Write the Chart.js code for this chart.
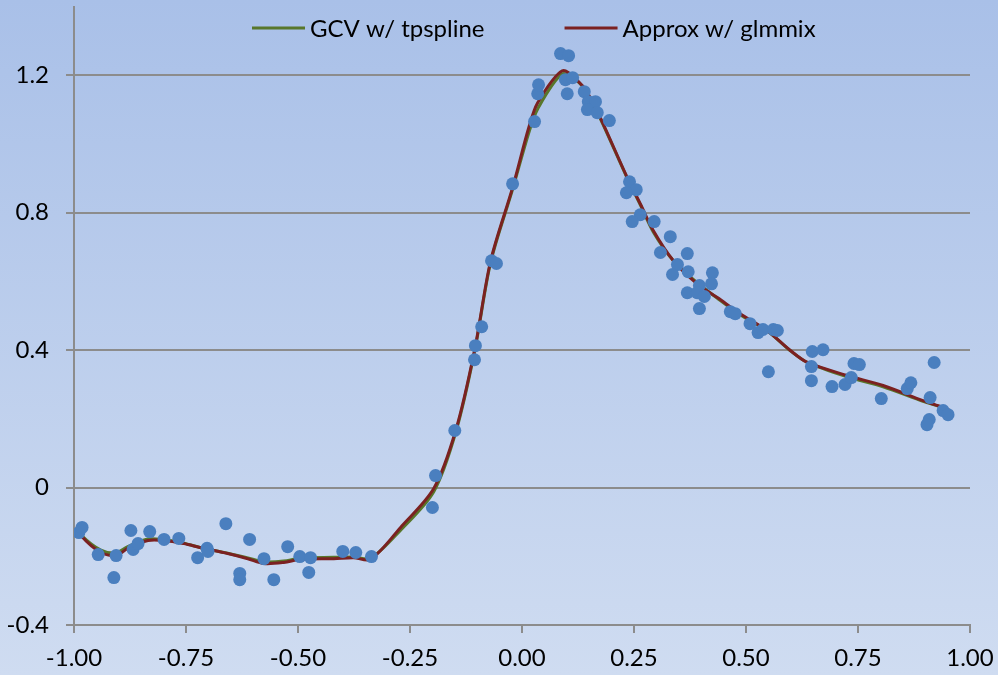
<!DOCTYPE html>
<html>
<head>
<meta charset="utf-8">
<script src="https://cdn.jsdelivr.net/npm/chart.js@4.4.1/dist/chart.umd.min.js"></script>
<style>
  html, body { margin: 0; padding: 0; }
  #wrap { width: 998px; height: 675px; position: relative; }
</style>
</head>
<body>
<div id="wrap"><canvas id="c"></canvas></div>
<script>
// Observed data points
const obsX = [-0.989, -0.982, -0.946, -0.906, -0.911, -0.873, -0.868, -0.857, -0.831, -0.799,
  -0.766, -0.724, -0.703, -0.701, -0.661, -0.630, -0.630, -0.608, -0.576, -0.554,
  -0.523, -0.496, -0.476, -0.472, -0.400, -0.371, -0.336, -0.200, -0.193,
  -0.150, -0.106, -0.104, -0.090, -0.068, -0.057, -0.021, 0.028, 0.035, 0.037,
  0.086, 0.104, 0.097, 0.113, 0.101, 0.139, 0.148, 0.164, 0.146, 0.168, 0.195,
  0.240, 0.255, 0.233, 0.264, 0.246, 0.295, 0.331, 0.309, 0.369, 0.347,
  0.336, 0.371, 0.425, 0.423, 0.396, 0.369, 0.391, 0.407, 0.396, 0.465,
  0.476, 0.509, 0.527, 0.538, 0.561, 0.570, 0.550, 0.648, 0.672, 0.646,
  0.646, 0.692, 0.721, 0.735, 0.741, 0.753, 0.802, 0.860, 0.868, 0.911,
  0.920, 0.940, 0.951, 0.909, 0.904];
const obsY = [-0.131, -0.116, -0.195, -0.198, -0.262, -0.125, -0.180, -0.163, -0.128, -0.151,
  -0.148, -0.204, -0.177, -0.186, -0.105, -0.250, -0.268, -0.151, -0.207, -0.268,
  -0.172, -0.201, -0.247, -0.204, -0.186, -0.189, -0.201, -0.058, 0.035,
  0.166, 0.372, 0.413, 0.468, 0.660, 0.652, 0.884, 1.065, 1.146, 1.172,
  1.263, 1.257, 1.187, 1.193, 1.146, 1.152, 1.123, 1.123, 1.100, 1.091, 1.068,
  0.890, 0.867, 0.858, 0.794, 0.774, 0.774, 0.730, 0.684, 0.681, 0.649,
  0.620, 0.628, 0.625, 0.593, 0.588, 0.567, 0.567, 0.556, 0.521, 0.512,
  0.506, 0.477, 0.451, 0.460, 0.460, 0.457, 0.337, 0.396, 0.401, 0.352,
  0.311, 0.294, 0.300, 0.320, 0.361, 0.358, 0.259, 0.288, 0.305, 0.262,
  0.364, 0.224, 0.212, 0.198, 0.183];

// Fitted curves (shared x grid)
const fitX = [-0.993, -0.984, -0.940, -0.906, -0.880, -0.835, -0.799, -0.755, -0.717, -0.657,
  -0.612, -0.576, -0.532, -0.494, -0.420, -0.376, -0.338, -0.271, -0.197, -0.148,
  -0.106, -0.070, -0.021, 0.015, 0.035, 0.090, 0.124, 0.146, 0.175, 0.235,
  0.264, 0.293, 0.338, 0.391, 0.436, 0.487, 0.547, 0.599, 0.637, 0.726,
  0.806, 0.895, 0.940, 0.955];
const gcvY = [-0.113, -0.138, -0.182, -0.190, -0.172, -0.150, -0.152, -0.162, -0.175, -0.191,
  -0.205, -0.216, -0.214, -0.205, -0.203, -0.202, -0.206, -0.124, -0.012, 0.160,
  0.394, 0.655, 0.868, 1.032, 1.102, 1.204, 1.182, 1.146, 1.073, 0.900,
  0.823, 0.744, 0.660, 0.596, 0.551, 0.503, 0.456, 0.398, 0.364, 0.322,
  0.293, 0.251, 0.232, 0.223];
const glmmixY = [-0.111, -0.140, -0.189, -0.198, -0.177, -0.154, -0.154, -0.163, -0.175, -0.192,
  -0.207, -0.221, -0.218, -0.209, -0.207, -0.204, -0.209, -0.116, -0.003, 0.166,
  0.399, 0.660, 0.873, 1.047, 1.120, 1.213, 1.184, 1.149, 1.076, 0.902,
  0.826, 0.748, 0.660, 0.593, 0.553, 0.506, 0.457, 0.399, 0.364, 0.326,
  0.297, 0.253, 0.233, 0.224];

const seriesNames = ['GCV w/ tpspline', 'Approx w/ glmmix'];
const xTicks = [-1, -0.75, -0.5, -0.25, 0, 0.25, 0.5, 0.75, 1];
const yTicks = [-0.4, 0, 0.4, 0.8, 1.2];

const toPts = (xs, ys) => xs.map((x, i) => ({ x, y: ys[i] }));
const GRID = '#8c8c8c';
const FONT = 'Lato, "Open Sans", sans-serif';

Chart.defaults.font.family = FONT;
Chart.defaults.font.size = 24;
Chart.defaults.color = '#000000';

// Soft vertical gradient behind the whole chart
const backdrop = {
  id: 'backdrop',
  beforeDraw(chart) {
    const { ctx, width, height } = chart;
    const g = ctx.createLinearGradient(0, 0, 0, height);
    g.addColorStop(0, '#a9c0e8');
    g.addColorStop(1, '#cfdcf1');
    ctx.save();
    ctx.fillStyle = g;
    ctx.fillRect(0, 0, width, height);
    ctx.restore();
  }
};

// Line-sample legend placed inside the plot near the top
const lineLegend = {
  id: 'lineLegend',
  afterDraw(chart) {
    const { ctx } = chart;
    const items = chart.data.datasets.filter(d => d.showInLegend);
    ctx.save();
    ctx.font = '24px ' + FONT;
    ctx.textBaseline = 'middle';
    ctx.fillStyle = '#000';
    const y = 28;
    let x = 252;
    items.forEach(d => {
      ctx.strokeStyle = d.borderColor;
      ctx.lineWidth = 3;
      ctx.beginPath();
      ctx.moveTo(x, y);
      ctx.lineTo(x + 53, y);
      ctx.stroke();
      ctx.fillText(d.label, x + 58, y + 1);
      x += 58 + ctx.measureText(d.label).width + 80;
    });
    ctx.restore();
  }
};

new Chart(document.getElementById('c'), {
  type: 'scatter',
  data: {
    datasets: [
      {
        label: 'Data',
        data: toPts(obsX, obsY),
        backgroundColor: '#4a7fbf',
        borderColor: '#4a7fbf',
        pointRadius: 6.5,
        pointHoverRadius: 6.5,
        borderWidth: 0,
        order: 0
      },
      {
        label: seriesNames[0],
        showInLegend: true,
        type: 'line',
        data: toPts(fitX, gcvY),
        borderColor: '#58772b',
        backgroundColor: '#58772b',
        borderWidth: 3,
        pointRadius: 0,
        tension: 0.3,
        fill: false,
        order: 2
      },
      {
        label: seriesNames[1],
        showInLegend: true,
        type: 'line',
        data: toPts(fitX, glmmixY),
        borderColor: '#7b2121',
        backgroundColor: '#7b2121',
        borderWidth: 3,
        pointRadius: 0,
        tension: 0.3,
        fill: false,
        order: 1
      }
    ]
  },
  options: {
    responsive: true,
    maintainAspectRatio: false,
    animation: false,
    layout: { padding: { top: 6, right: 28, left: 0, bottom: 0 } },
    plugins: { legend: { display: false }, tooltip: { enabled: false } },
    scales: {
      x: {
        type: 'linear',
        min: -1, max: 1,
        afterBuildTicks(scale) { scale.ticks = xTicks.map(v => ({ value: v })); },
        afterFit(scale) { scale.height = 50; scale.paddingLeft = 0; scale.paddingRight = 0; },
        ticks: { padding: 11, maxRotation: 0, callback: v => v.toFixed(2) },
        grid: { drawOnChartArea: false, drawTicks: true, tickLength: 8, color: GRID, lineWidth: 2 },
        border: { color: GRID, width: 2 }
      },
      y: {
        type: 'linear',
        min: -0.4, max: 1.4,
        afterBuildTicks(scale) { scale.ticks = yTicks.map(v => ({ value: v })); },
        afterFit(scale) { scale.width = 74; scale.paddingTop = 0; scale.paddingBottom = 0; },
        ticks: { padding: 17, callback: v => String(Math.round(v * 10) / 10) },
        grid: { color: GRID, lineWidth: 2, tickLength: 8 },
        border: { color: GRID, width: 2 }
      }
    }
  },
  plugins: [backdrop, lineLegend]
});
</script>
</body>
</html>
